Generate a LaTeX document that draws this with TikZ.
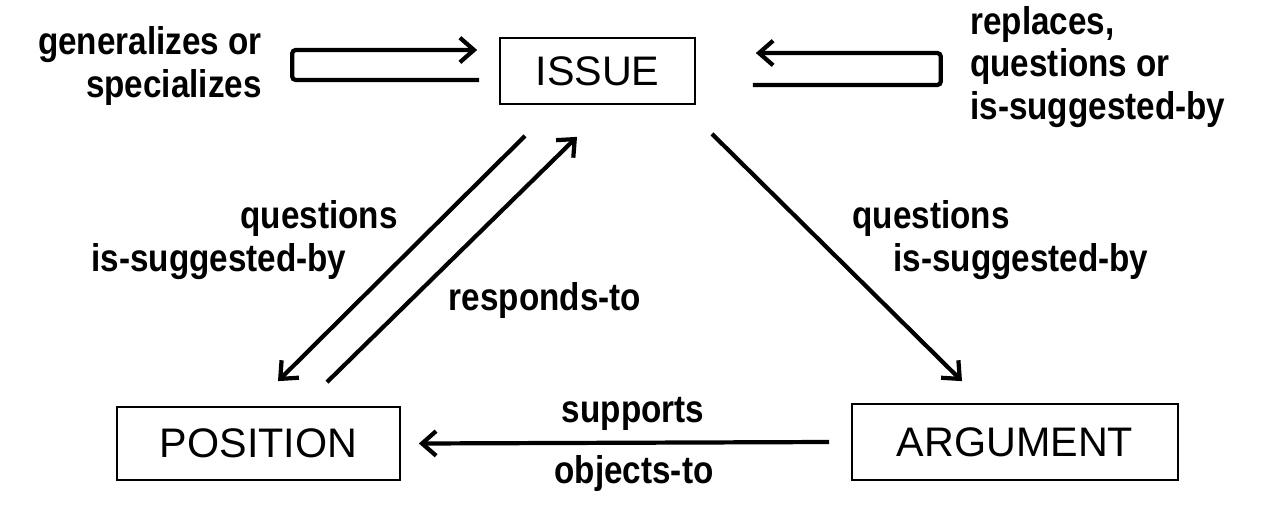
\documentclass[tikz,border=0pt]{standalone}
\usepackage{fontspec}
\setmainfont{Liberation Sans}
\newfontfamily\lblfont[FakeStretch=0.86]{Liberation Sans}
\usetikzlibrary{positioning,arrows.meta}

\begin{document}
\begin{tikzpicture}[x=0.02cm,y=-0.02cm,>={Straight Barb[length=8pt,width=14pt]},
    link/.style={->,line width=2.4pt,rounded corners=2pt},
    box node/.style={draw,line width=1pt,inner sep=0pt,font=\fontsize{23.5}{26}\selectfont},
    label node/.style={inner sep=0pt,font=\lblfont\bfseries\fontsize{22}{24}\selectfont}]

\useasboundingbox (0,0) rectangle (1261,511);

% the three boxes
\node[box node,minimum width=3.9cm,minimum height=1.32cm]  (issue)    at (597.5,71)  {ISSUE};
\node[box node,minimum width=5.66cm,minimum height=1.46cm] (position) at (258.5,443.5) {POSITION};
\node[box node,minimum width=6.52cm,minimum height=1.52cm] (argument) at (1015,442)  {ARGUMENT};

% loops on the issue
\draw[link] ([shift={(-0.4cm,-0.18cm)}]issue.west) -- ++(-3.74cm,0) |- ([shift={(-0.44cm,0.42cm)}]issue.west);
\draw[link] ([shift={(1.14cm,-0.28cm)}]issue.east) -- ++(3.76cm,0) |- ([shift={(1.2cm,0.36cm)}]issue.east);

% between the boxes
\draw[link] ([shift={(-1.45cm,-0.62cm)}]issue.south) -- ([shift={(0.39cm,0.5cm)}]position.north);
\draw[link] ([shift={(1.37cm,0.48cm)}]position.north) -- ([shift={(-0.41cm,-0.64cm)}]issue.south);
\draw[link] ([shift={(2.29cm,-0.58cm)}]issue.south) -- ([shift={(-1.06cm,0.44cm)}]argument.north);
\draw[link] ([xshift=-0.44cm]argument.west) -- ([xshift=0.36cm]position.east);

% labels
\node[label node,anchor=east,align=right] (genlbl) at (262,66) {generalizes or\\specializes};
\node[label node,anchor=west,align=left]  (replbl) at (970,67) {replaces,\\questions or\\is-suggested-by};
\node[label node] (qleft)   at (319,218) {questions};
\node[label node] (sleft)   at (219,262) {is-suggested-by};
\node[label node] (resp)    at (545,300) {responds-to};
\node[label node] (qright)  at (931,218) {questions};
\node[label node] (sright)  at (1021,262) {is-suggested-by};
\node[label node] (supp)    at (633,414) {supports};
\node[label node] (obj)     at (634,473) {objects-to};

\end{tikzpicture}
\end{document}
